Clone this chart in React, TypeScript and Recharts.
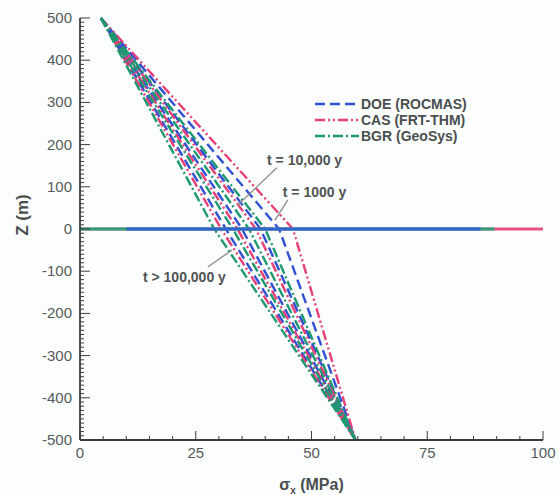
import { Label, Legend, Line, LineChart, ReferenceDot, ReferenceLine, XAxis, YAxis } from "recharts";

// Stress profiles: each run goes from the surface value at z = 500 through
// its value at the fault (z = 0) down to the common value at z = -500.
const topStress = 4.5;
const baseStress = 59.5;

// Stress at z = 0 for t > 100,000 y, an intermediate time, t = 10,000 y, t = 1000 y
const doeAtFault = [31.5, 35, 39, 43];
const casAtFault = [30.5, 34, 38, 46];
const bgrAtFault = [29, 33, 36.5, 40];

// Extent of the horizontal trace along z = 0 (MPa)
const doeFaultTrace = [10, 86.5];
const casFaultTrace = [0, 100];
const bgrFaultTrace = [0, 89.5];

const xMajorTicks = [0, 25, 50, 75, 100];
const yMajorTicks = [-500, -400, -300, -200, -100, 0, 100, 200, 300, 400, 500];

const FONT = '"Liberation Sans", Arial, Helvetica, sans-serif';
const AXIS = "#3a3d3d";
const LABEL = "#555a5a";

const xTicks: number[] = [];
for (let v = 0; v <= 100; v += 5) xTicks.push(v);
const yTicks: number[] = [];
for (let v = -500; v <= 500; v += 10) yTicks.push(v);

interface Series {
  name: string;
  color: string;
  dash: string;
  atFault: number[];
  trace: number[];
  traceColor: string;
}

const series: Series[] = [
  { name: "DOE (ROCMAS)", color: "#2f4fd4", dash: "10 5", atFault: doeAtFault, trace: doeFaultTrace, traceColor: "#2e66cf" },
  { name: "CAS (FRT-THM)", color: "#e63f78", dash: "10 3 2 3 2 3", atFault: casAtFault, trace: casFaultTrace, traceColor: "#e8527f" },
  { name: "BGR (GeoSys)", color: "#1d9870", dash: "10 3 2 3", atFault: bgrAtFault, trace: bgrFaultTrace, traceColor: "#2aa07c" },
];

const profile = (s0: number) => [
  { s: topStress, z: 500 },
  { s: s0, z: 0 },
  { s: baseStress, z: -500 },
];

const trace = (range: number[]) => [
  { s: range[0], z: 0 },
  { s: range[1], z: 0 },
];

function YTick(props: any) {
  const { x, y, payload } = props;
  const major = yMajorTicks.includes(payload.value);
  return (
    <g>
      <line x1={x} x2={x + (major ? 10 : 4)} y1={y} y2={y} stroke={AXIS} strokeWidth={1} />
      {major && (
        <text x={x - 8} y={y + 5} textAnchor="end" fill={LABEL} fontSize={15} fontFamily={FONT}>
          {payload.value}
        </text>
      )}
    </g>
  );
}

function XTick(props: any) {
  const { x, y, payload } = props;
  const major = xMajorTicks.includes(payload.value);
  return (
    <g>
      <line x1={x} x2={x} y1={y} y2={y - (major ? 9 : 4)} stroke={AXIS} strokeWidth={1} />
      {major && (
        <text x={x} y={y + 18} textAnchor="middle" fill={LABEL} fontSize={15} fontFamily={FONT}>
          {payload.value}
        </text>
      )}
    </g>
  );
}

function LegendBox() {
  return (
    <div style={{ fontFamily: FONT, fontWeight: "bold", fontSize: 14, color: "#4a4e4e", lineHeight: "16px" }}>
      {series.map((s) => (
        <div key={s.name} style={{ display: "flex", alignItems: "center", height: 16 }}>
          <svg width={48} height={16}>
            <line x1={2} x2={46} y1={8} y2={8} stroke={s.color} strokeWidth={2.5} strokeDasharray={s.dash} />
          </svg>
          <span>{s.name}</span>
        </div>
      ))}
    </div>
  );
}

const noteStyle = { fill: "#505454", fontSize: 14, fontWeight: "bold", fontFamily: FONT };

export default function App() {
  return (
    <div style={{ position: "absolute", left: 0, top: 0, width: 560, height: 495, background: "#fcfefe" }}>
      <LineChart width={560} height={495} margin={{ top: 18, right: 17, bottom: 0, left: 0 }}>
        <XAxis
          type="number"
          dataKey="s"
          domain={[0, 100]}
          ticks={xTicks}
          interval={0}
          tickSize={0}
          tickMargin={0}
          tickLine={false}
          tick={<XTick />}
          height={55}
          axisLine={{ stroke: AXIS, strokeWidth: 1.8 }}
          label={({ viewBox }: any) => (
            <text
              x={viewBox.x + viewBox.width / 2}
              y={viewBox.y + 50}
              textAnchor="middle"
              fill="#4a4e4e"
              fontSize={16}
              fontWeight="bold"
              fontFamily={FONT}
            >
              σ<tspan fontSize={10} dy={4}>x</tspan>
              <tspan dy={-4}> (MPa)</tspan>
            </text>
          )}
        />
        <YAxis
          type="number"
          dataKey="z"
          domain={[-500, 500]}
          ticks={yTicks}
          interval={0}
          tickSize={0}
          tickMargin={0}
          tickLine={false}
          tick={<YTick />}
          width={80}
          axisLine={{ stroke: AXIS, strokeWidth: 1.8 }}
          label={({ viewBox }: any) => {
            const cx = viewBox.x + 22;
            const cy = viewBox.y + viewBox.height / 2 - 14;
            return (
              <text
                x={cx}
                y={cy}
                transform={`rotate(-90 ${cx} ${cy})`}
                textAnchor="middle"
                dominantBaseline="central"
                fill="#4a4e4e"
                fontSize={17}
                fontWeight="bold"
                fontFamily={FONT}
              >
                Z (m)
              </text>
            );
          }}
        />
        <Legend
          layout="vertical"
          align="center"
          verticalAlign="middle"
          content={<LegendBox />}
          wrapperStyle={{ left: 313, top: 96, width: 200 }}
        />

        {series.flatMap((s) =>
          s.atFault.map((v, i) => (
            <Line
              key={`${s.name}-${i}`}
              data={profile(v)}
              dataKey="z"
              type="linear"
              stroke={s.color}
              strokeWidth={2.4}
              strokeDasharray={s.dash}
              dot={false}
              activeDot={false}
              legendType="none"
              isAnimationActive={false}
            />
          ))
        )}

        {[series[1], series[2], series[0]].map((s) => (
          <Line
            key={`${s.name}-trace`}
            data={trace(s.trace)}
            dataKey="z"
            type="linear"
            stroke={s.traceColor}
            strokeWidth={3.2}
            dot={false}
            activeDot={false}
            legendType="none"
            isAnimationActive={false}
          />
        ))}

        <ReferenceLine segment={[{ x: 42.5, y: 145 }, { x: 34.1, y: 57 }]} stroke="#8a8e8e" strokeWidth={1.3} />
        <ReferenceLine segment={[{ x: 44.9, y: 69 }, { x: 42.1, y: 21 }]} stroke="#8a8e8e" strokeWidth={1.3} />
        <ReferenceLine segment={[{ x: 27.6, y: -90 }, { x: 32.8, y: -50 }]} stroke="#8a8e8e" strokeWidth={1.3} />

        <ReferenceDot x={40.4} y={163} r={0} stroke="none">
          <Label value="t = 10,000 y" position="right" offset={0} style={noteStyle} />
        </ReferenceDot>
        <ReferenceDot x={43.8} y={88} r={0} stroke="none">
          <Label value="t = 1000 y" position="right" offset={0} style={noteStyle} />
        </ReferenceDot>
        <ReferenceDot x={13.6} y={-114} r={0} stroke="none">
          <Label value="t > 100,000 y" position="right" offset={0} style={noteStyle} />
        </ReferenceDot>
      </LineChart>
    </div>
  );
}
